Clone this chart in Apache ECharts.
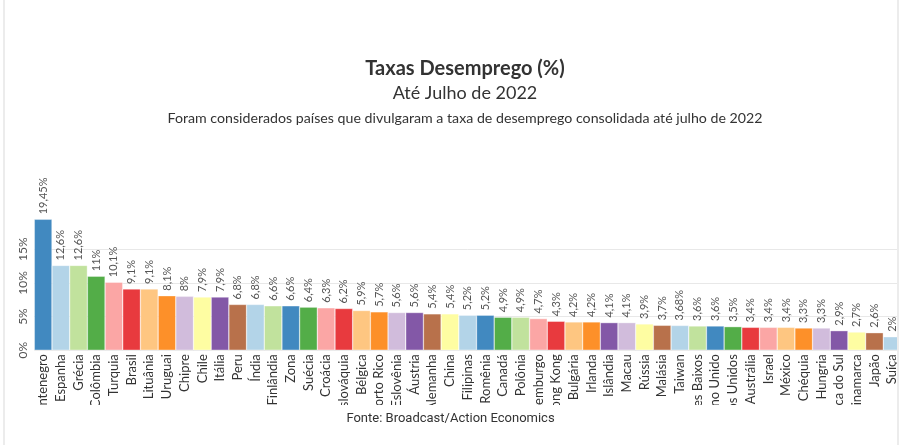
<!DOCTYPE html>
<html>
<head>
<meta charset="utf-8">
<script src="https://cdn.jsdelivr.net/npm/echarts@6/dist/echarts.min.js"></script>
<style>
  html, body { margin: 0; padding: 0; background: #fff; }
  #wrap { position: relative; width: 901px; height: 445px; overflow: hidden; }
  #chart { position: absolute; left: 0; top: 0; width: 901px; height: 445px; }
  #bl { position: absolute; left: 3px; top: 0; width: 2px; height: 445px; background: #ececec; }
  #br { position: absolute; left: 897px; top: 0; width: 4px; height: 445px; background: #fff; border-left: 2px solid #ececec; box-sizing: border-box; }
</style>
</head>
<body>
<div id="wrap">
  <div id="chart"></div>
  <div id="bl"></div>
  <div id="br"></div>
</div>
<script>
const categories = ['Montenegro','Espanha','Grécia','Colômbia','Turquia','Brasil','Lituânia','Uruguai','Chipre','Chile','Itália','Peru','Índia','Finlândia','Zona','Suécia','Croácia','Eslováquia','Bélgica','Porto Rico','Eslovênia','Áustria','Alemanha','China','Filipinas','Romênia','Canadá','Polônia','Luxemburgo','Hong Kong','Bulgária','Irlanda','Islândia','Macau','Rússia','Malásia','Taiwan','Países Baixos','Reino Unido','Estados Unidos','Austrália','Israel','México','Chéquia','Hungria','África do Sul','Dinamarca','Japão','Suíça'];
const values = [19.45,12.6,12.6,11,10.1,9.1,9.1,8.1,8,7.9,7.9,6.8,6.8,6.6,6.6,6.4,6.3,6.2,5.9,5.7,5.6,5.6,5.4,5.4,5.2,5.2,4.9,4.9,4.7,4.3,4.2,4.2,4.1,4.1,3.9,3.7,3.68,3.6,3.6,3.5,3.4,3.4,3.4,3.3,3.3,2.9,2.7,2.6,2];
const yTicks = [0, 5, 10, 15];

const palette = {
  B: '#4189c0', LB: '#b3d4e8', LG: '#c1e29d', G: '#53ad48', P: '#fba6a5', R: '#e83a3e',
  LO: '#fec681', O: '#fd9029', LV: '#d1bcdc', Y: '#fefda2', PU: '#8358a7', BR: '#b8714b'
};
const colorKeys = ['B','LB','LG','G','P','R','LO','O','LV','Y','PU','BR','LB','LG','B','G','P','R','LO','O','LV','PU','BR','Y','LB','B','G','LG','P','R','LO','O','PU','LV','Y','BR','LB','LG','B','G','R','P','LO','O','LV','PU','Y','BR','LB'];

const fmt = v => String(v).replace('.', ',') + '%';

const chart = echarts.init(document.getElementById('chart'), null, { renderer: 'canvas' });
chart.setOption({
  animation: false,
  backgroundColor: '#fff',
  title: [
    { text: 'Taxas Desemprego (%)', left: 460, top: 54, textAlign: 'center',
      textStyle: { fontFamily: 'Lato', fontSize: 20, fontWeight: 'bold', color: '#333' } },
    { text: 'Até Julho de 2022', left: 460, top: 79, textAlign: 'center',
      textStyle: { fontFamily: 'Lato', fontSize: 18, fontWeight: 'normal', color: '#333' } },
    { text: 'Foram considerados países que divulgaram a taxa de desemprego consolidada até julho de 2022', left: 460, top: 106, textAlign: 'center',
      textStyle: { fontFamily: 'Lato', fontSize: 14.2, fontWeight: 'normal', color: '#333' } }
  ],
  grid: { left: 34.3, right: -3, top: 215.6, bottom: 92, containLabel: false },
  xAxis: {
    type: 'category',
    data: categories,
    axisLine: { show: false },
    axisTick: { show: false },
    axisLabel: { interval: 0, rotate: 90, margin: 4, fontFamily: 'Lato', fontSize: 13, color: '#333' }
  },
  yAxis: {
    type: 'value',
    min: yTicks[0],
    max: 20,
    interval: 5,
    axisLine: { show: false },
    axisTick: { show: false },
    splitLine: { lineStyle: { color: ['#e8e8e8','#e8e8e8','#e8e8e8','#e8e8e8','rgba(0,0,0,0)'], width: 1 } },
    axisLabel: {
      showMaxLabel: false, rotate: 90, margin: 5, align: 'center', verticalAlign: 'bottom',
      fontFamily: 'Lato', fontSize: 12, color: '#555',
      formatter: v => v + '%'
    }
  },
  graphic: [
    { type: 'rect', z: 100, shape: { x: 0, y: 405, width: 901, height: 40 }, style: { fill: '#fff' } },
    { type: 'text', z: 101, left: 'center', top: 412,
      style: { text: 'Fonte: Broadcast/Action Economics', font: '13px Roboto', fill: '#333' } }
  ],
  series: [{
    type: 'bar',
    barCategoryGap: 0,
    data: values.map((v, i) => ({ value: v, itemStyle: { color: palette[colorKeys[i]] } })),
    itemStyle: { borderColor: 'rgba(255,255,255,0.7)', borderWidth: 0.5 },
    label: {
      show: true, position: 'top', rotate: 90, align: 'left', verticalAlign: 'middle', distance: 5,
      fontFamily: 'Lato', fontSize: 11, color: '#555',
      formatter: p => fmt(p.value)
    }
  }]
});
</script>
</body>
</html>
